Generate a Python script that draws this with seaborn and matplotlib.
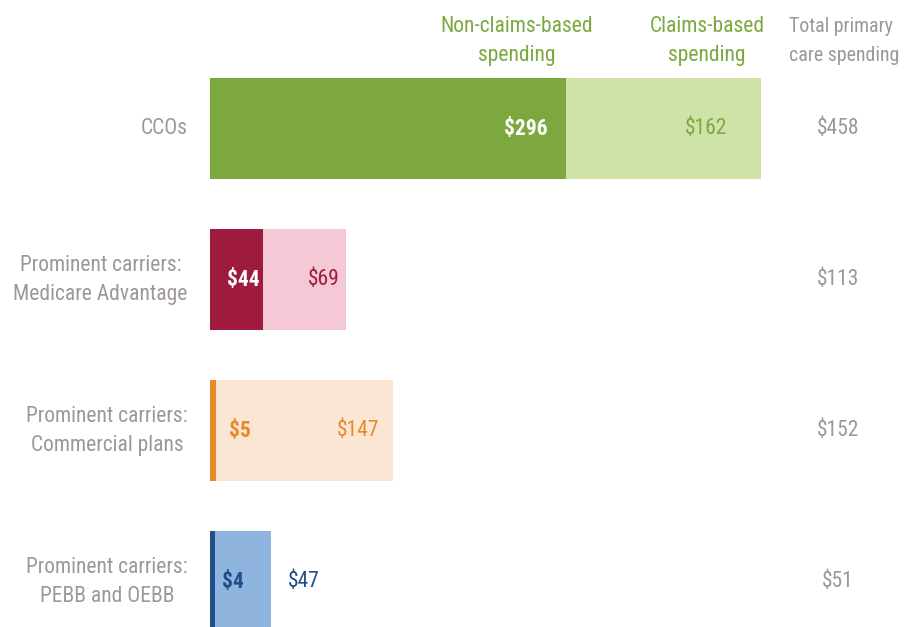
'''
Primary care spending per member, stacked horizontal bars
'''
import matplotlib
matplotlib.use('Agg')

import seaborn           as sns
import matplotlib.pyplot as plt
import pandas            as pnd

# ----------------------
categories  = ['CCOs', 'Prominent carriers:\nMedicare Advantage', 'Prominent carriers:\nCommercial plans', 'Prominent carriers:\nPEBB and OEBB']
non_claims  = [296, 44, 5, 4]
claims      = [162, 69, 147, 47]
totals      = [458, 113, 152, 51]

dark_colors  = ['#7DA83F', '#9E1B3E', '#E8892B', '#1F4E8A']
light_colors = ['#CFE3A8', '#F5C8D6', '#FAE6D3', '#8FB4DE']
GRAY         = '#9E9797'
GREEN_TXT    = '#7DA83F'
# ----------------------
def _initialize() -> None:
    sns.set_theme(style='white')
    plt.rcParams['font.family'] = ['Roboto Condensed', 'Liberation Sans', 'DejaVu Sans']
# ----------------------
def main():
    _initialize()
    df = pnd.DataFrame({'category' : categories, 'non_claims' : non_claims, 'claims' : claims, 'total' : totals})

    fig = plt.figure(figsize=(9.05, 6.27), dpi=100)
    ax  = fig.add_axes([210 / 905, 0.0, 551 / 905, 1.0])

    sns.barplot(data=df, x='total', y='category', hue='category', palette=light_colors,
                width=0.669, legend=False, ax=ax, saturation=1, linewidth=0)
    sns.barplot(data=df, x='non_claims', y='category', hue='category', palette=dark_colors,
                width=0.669, legend=False, ax=ax, saturation=1, linewidth=0)

    ax.set_xlim(0, 458)
    ax.set_ylim(3.301, -0.851)
    ax.axis('off')

    fs = 15.5
    ls = 1.5
    for i, row in df.iterrows():
        # category label
        ax.text(-18.5, i, row['category'], ha='right', va='center', color=GRAY,
                fontsize=fs, multialignment='center', linespacing=ls)
        # dark segment label
        if row['non_claims'] > 20:
            ax.text(row['non_claims'] - (15 if i == 0 else 3), i, f"${row['non_claims']}",
                    ha='right', va='center', color='white', fontsize=fs, fontweight='bold')
        else:
            ax.text(row['non_claims'] + (11 if i == 2 else 6), i, f"${row['non_claims']}",
                    ha='left', va='center', color=dark_colors[i], fontsize=fs, fontweight='bold')
        # light segment label
        if i == 3:
            ax.text(row['total'] + 14, i, f"${row['claims']}", ha='left', va='center',
                    color=dark_colors[i], fontsize=fs)
        else:
            off = {0 : 28, 1 : 5, 2 : 11}[i]
            ax.text(row['total'] - off, i, f"${row['claims']}", ha='right', va='center',
                    color=dark_colors[i], fontsize=fs)
        # total
        ax.text(522, i, f"${row['total']}", ha='center', va='center', color=GRAY, fontsize=fs)

    # column headers
    ax.text(255, -0.58, 'Non-claims-based\nspending', ha='center', va='center', color=GREEN_TXT,
            fontsize=fs, linespacing=ls)
    ax.text(413, -0.58, 'Claims-based\nspending', ha='center', va='center', color=GREEN_TXT,
            fontsize=fs, linespacing=ls)
    ax.text(481.5, -0.58, 'Total primary\ncare spending', ha='left', va='center', color=GRAY,
            fontsize=14.3, linespacing=1.62)

    fig.savefig('out.png', dpi=100)
# ----------------------
if __name__ == '__main__':
    main()
